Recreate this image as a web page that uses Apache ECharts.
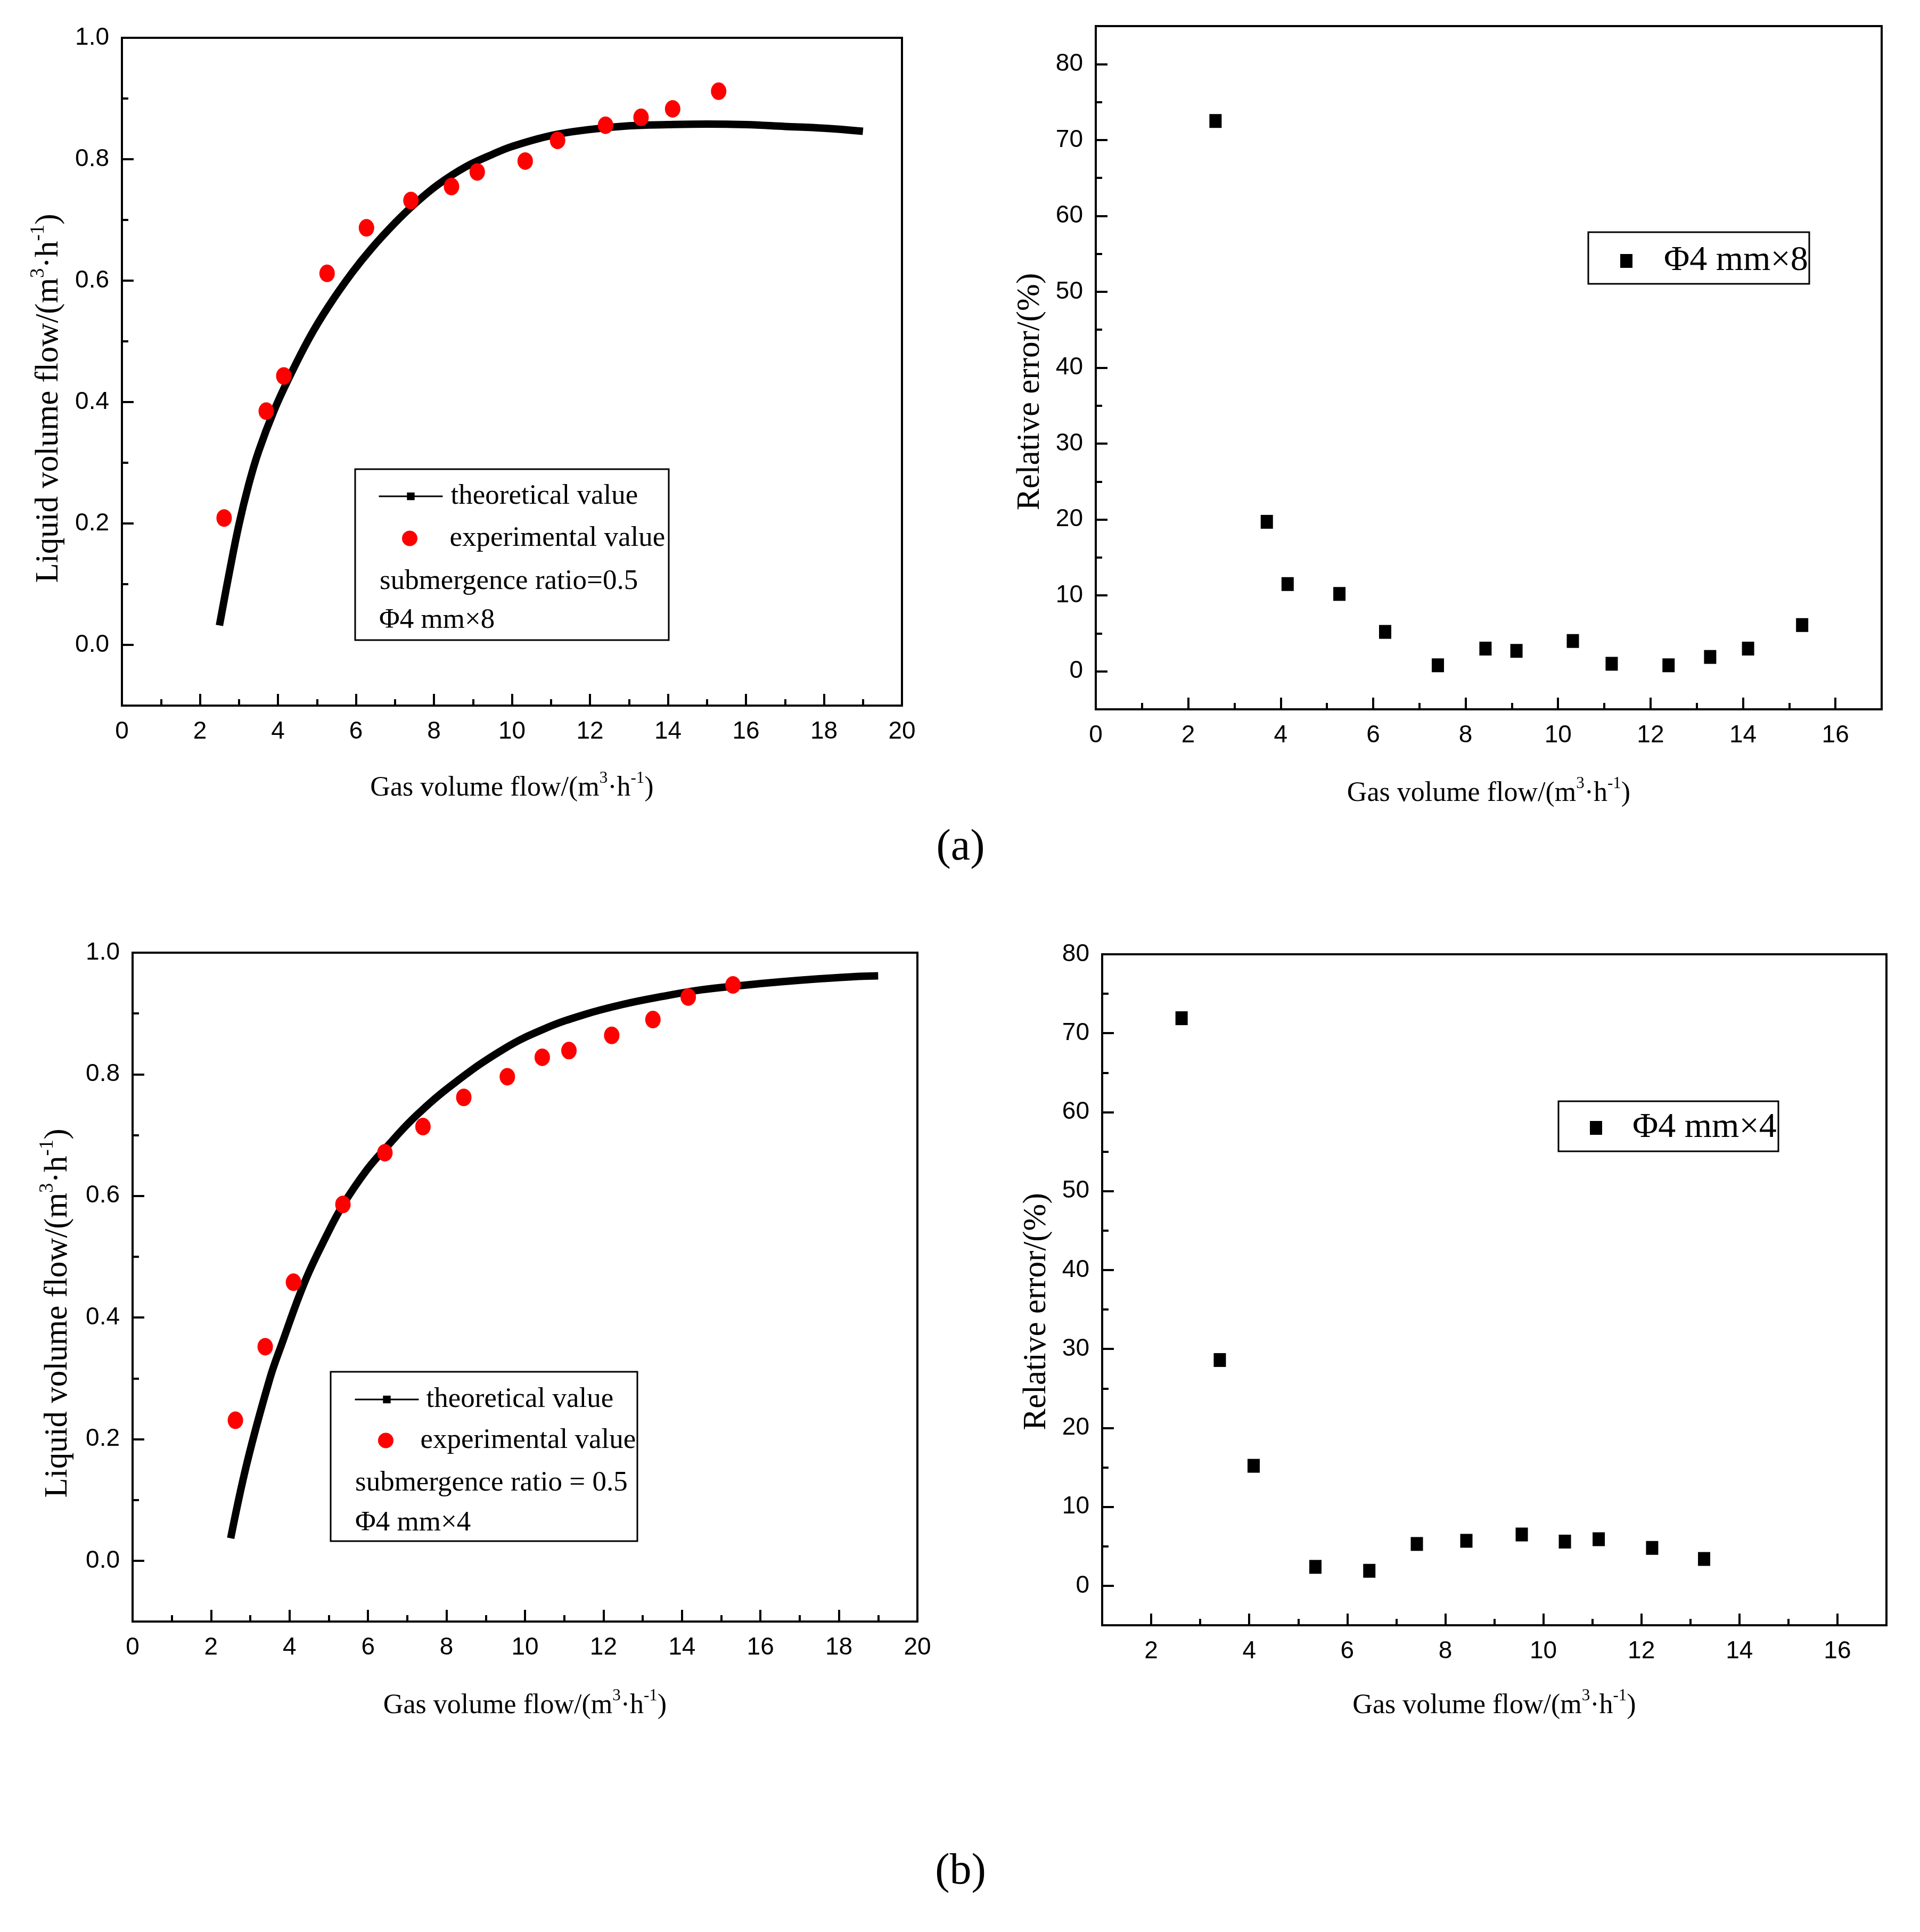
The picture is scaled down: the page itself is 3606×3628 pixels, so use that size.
<!DOCTYPE html>
<html>
<head>
<meta charset="utf-8">
<title>Liquid volume flow and relative error</title>
<script src="https://cdn.jsdelivr.net/npm/echarts@6/dist/echarts.min.js"></script>
<style>
html, body { margin: 0; padding: 0; background: #fff; }
#chart { width: 3606px; height: 3628px; }
</style>
</head>
<body>
<div id="chart"></div>
<script>
// (a) submergence ratio 0.5, Φ4 mm×8
var theoryXa = [2.5, 2.75, 3.0, 3.25, 3.5, 3.9, 4.3, 4.8, 5.3, 5.9, 6.4, 7.0, 7.5, 8.1, 8.8, 9.5, 10.0, 11.0, 12.0, 13.0, 14.0, 15.0, 16.0, 17.0, 18.0, 19.0];
var theoryYa = [0.032, 0.118, 0.198, 0.264, 0.318, 0.386, 0.442, 0.505, 0.558, 0.613, 0.653, 0.695, 0.726, 0.758, 0.787, 0.808, 0.821, 0.839, 0.849, 0.855, 0.857, 0.858, 0.857, 0.854, 0.851, 0.846];
var expXa = [2.62, 3.70, 4.15, 5.26, 6.27, 7.41, 8.45, 9.11, 10.34, 11.17, 12.40, 13.31, 14.12, 15.30];
var expYa = [0.209, 0.385, 0.443, 0.612, 0.687, 0.732, 0.755, 0.779, 0.797, 0.831, 0.856, 0.869, 0.883, 0.912];
var errXa = [2.59, 3.70, 4.15, 5.27, 6.26, 7.40, 8.43, 9.10, 10.32, 11.16, 12.39, 13.29, 14.11, 15.28];
var errYa = [72.5, 19.7, 11.5, 10.2, 5.2, 0.8, 3.0, 2.7, 4.0, 1.0, 0.8, 1.9, 3.0, 6.1];

// (b) submergence ratio 0.5, Φ4 mm×4
var theoryXb = [2.5, 2.92, 3.5, 3.8, 4.39, 4.96, 5.36, 5.96, 6.44, 7.21, 8.21, 9.47, 10.5, 11.5, 12.5, 13.5, 14.5, 15.5, 16.5, 17.5, 18.5, 19.0];
var theoryYb = [0.037, 0.162, 0.300, 0.356, 0.459, 0.537, 0.585, 0.642, 0.678, 0.731, 0.786, 0.842, 0.875, 0.898, 0.915, 0.928, 0.939, 0.946, 0.952, 0.957, 0.961, 0.962];
var expXb = [2.62, 3.38, 4.10, 5.36, 6.43, 7.40, 8.44, 9.55, 10.44, 11.12, 12.21, 13.26, 14.16, 15.30];
var expYb = [0.231, 0.352, 0.458, 0.586, 0.671, 0.714, 0.762, 0.796, 0.828, 0.839, 0.864, 0.890, 0.927, 0.947];
var errXb = [2.62, 3.40, 4.09, 5.35, 6.45, 7.42, 8.43, 9.56, 10.44, 11.13, 12.22, 13.28];
var errYb = [71.9, 28.6, 15.2, 2.4, 1.9, 5.3, 5.7, 6.5, 5.6, 5.9, 4.8, 3.4];

// ticks
var flowTicks = [0, 2, 4, 6, 8, 10, 12, 14, 16, 18, 20];
var flowMinor = [1, 3, 5, 7, 9, 11, 13, 15, 17, 19];
var liqTicks = [0, 0.2, 0.4, 0.6, 0.8, 1.0];
var liqMinor = [0.1, 0.3, 0.5, 0.7, 0.9];
var gasTicksA = [0, 2, 4, 6, 8, 10, 12, 14, 16];
var gasMinorA = [1, 3, 5, 7, 9, 11, 13, 15];
var gasTicksB = [2, 4, 6, 8, 10, 12, 14, 16];
var gasMinorB = [3, 5, 7, 9, 11, 13, 15];
var errTicks = [0, 10, 20, 30, 40, 50, 60, 70, 80];
var errMinor = [5, 15, 25, 35, 45, 55, 65, 75];

var serif = 'Liberation Serif', sans = 'Liberation Sans';
var gasName = 'Gas volume flow/(m{sup|3}·h{sup|-1})';
var liqName = 'Liquid volume flow/(m{sup|3}·h{sup|-1})';
var errName = 'Relative error/(%)';
var ellipse = 'path://M50,0A50,50 0 1,1 50,100A50,50 0 1,1 50,0Z';

function pairs(xs, ys) {
    return xs.map(function (x, i) { return [x, ys[i]]; });
}

function titleStyle(size, lh, pad) {
    var s = Math.round(size * 0.6);
    return {
        fontFamily: serif, fontSize: size, lineHeight: lh, color: '#000', padding: pad || 0,
        rich: { sup: { fontFamily: serif, fontSize: s, lineHeight: s, verticalAlign: 'top', color: '#000' } }
    };
}

// major axis (line, labels, long ticks) + minor axis (short ticks only)
function axisPair(dim, grid, min, max, ticks, minor, fmt, name, gap, pad) {
    var pos = dim === 'x' ? 'bottom' : 'left';
    var major = {
        gridIndex: grid, type: 'value', min: min, max: max, position: pos,
        axisLine: { onZero: false, lineStyle: { color: '#000', width: 4 } },
        axisTick: { inside: true, length: 22, customValues: ticks, lineStyle: { color: '#000', width: 4 } },
        axisLabel: { customValues: ticks, formatter: fmt, margin: dim === 'x' ? 26 : 24, color: '#000', fontFamily: sans, fontSize: 46 },
        splitLine: { show: false },
        name: name, nameLocation: 'middle', nameGap: gap,
        nameTextStyle: dim === 'x' ? titleStyle(52, 68) : titleStyle(61, 76, pad)
    };
    var small = {
        gridIndex: grid, type: 'value', min: min, max: max, position: pos,
        axisLine: { show: false, onZero: false },
        axisTick: { inside: true, length: 12, customValues: minor, lineStyle: { color: '#000', width: 4 } },
        axisLabel: { show: false },
        splitLine: { show: false }
    };
    return [major, small];
}

function fmt1(v) { return v.toFixed(1); }
function fmt0(v) { return String(Math.round(v)); }

var grids = [
    { left: 229, top: 71, width: 1465, height: 1254 },
    { left: 2058, top: 49, width: 1476, height: 1283 },
    { left: 249, top: 1789, width: 1474, height: 1256 },
    { left: 2070, top: 1792, width: 1473, height: 1260 }
].map(function (g) {
    g.show = true; g.borderColor = '#000'; g.borderWidth = 4;
    g.backgroundColor = 'transparent'; g.outerBoundsMode = 'none';
    return g;
});

var xAxis = [].concat(
    axisPair('x', 0, 0, 20, flowTicks, flowMinor, fmt0, gasName, 121),
    axisPair('x', 1, 0, 17, gasTicksA, gasMinorA, fmt0, gasName, 124),
    axisPair('x', 2, 0, 20, flowTicks, flowMinor, fmt0, gasName, 124),
    axisPair('x', 3, 1, 17, gasTicksB, gasMinorB, fmt0, gasName, 117)
);
var yAxis = [].concat(
    axisPair('y', 0, -0.1, 1.0, liqTicks, liqMinor, fmt1, liqName, 99, [0, 100, 0, 0]),
    axisPair('y', 1, -5, 85, errTicks, errMinor, fmt0, errName, 85, [0, 90, 0, 0]),
    axisPair('y', 2, -0.1, 1.0, liqTicks, liqMinor, fmt1, liqName, 102, [0, 98, 0, 0]),
    axisPair('y', 3, -5, 80, errTicks, errMinor, fmt0, errName, 85, [0, 82, 0, 0])
);

function theory(axis, xs, ys) {
    return {
        type: 'line', name: 'theoretical value', xAxisIndex: axis, yAxisIndex: axis,
        data: pairs(xs, ys), symbol: 'rect', symbolSize: 14, showSymbol: false,
        smooth: 0.4,
        lineStyle: { color: '#000', width: 14 }, itemStyle: { color: '#000' }, z: 2
    };
}
function experiment(axis, xs, ys) {
    return {
        type: 'scatter', name: 'experimental value', xAxisIndex: axis, yAxisIndex: axis,
        data: pairs(xs, ys), symbol: ellipse, symbolSize: [29, 33],
        itemStyle: { color: '#ff0000', opacity: 1 }, z: 3
    };
}
function errors(axis, name, xs, ys) {
    return {
        type: 'scatter', name: name, xAxisIndex: axis, yAxisIndex: axis,
        data: pairs(xs, ys), symbol: 'rect', symbolSize: [23, 26],
        itemStyle: { color: '#000', opacity: 1 }, z: 3
    };
}

function legendRow(item, left, top, w, h, size, lh, pad) {
    return {
        data: [item], left: left, top: top, padding: 0, itemWidth: w, itemHeight: h,
        selectedMode: false, lineStyle: { width: 3 },
        textStyle: { fontFamily: serif, fontSize: size, lineHeight: lh, color: '#000', padding: [0, 0, 0, pad] }
    };
}

function note(text, x, y) {
    return { type: 'text', x: x, y: y, style: { text: text, fontFamily: serif, fontSize: 53, fill: '#000', verticalAlign: 'middle' } };
}
function box(x, y, w, h) {
    return { type: 'rect', shape: { x: x, y: y, width: w, height: h }, style: { fill: 'none', stroke: '#000', lineWidth: 3 } };
}
function panel(text, x, y) {
    return { type: 'text', x: x, y: y, style: { text: text, fontFamily: serif, fontSize: 82, fill: '#000', align: 'center', verticalAlign: 'middle' } };
}

var chart = echarts.init(document.getElementById('chart'), null, { renderer: 'canvas' });
chart.setOption({
    backgroundColor: '#fff',
    animation: false,
    grid: grids,
    xAxis: xAxis,
    yAxis: yAxis,
    legend: [
        legendRow('theoretical value', 710, 902, 120, 18, 53, 60, 10),
        legendRow({ name: 'experimental value', icon: 'circle' }, 755, 981, 120, 29, 53, 60, 10),
        legendRow('theoretical value', 665, 2598, 120, 18, 53, 60, 9),
        legendRow({ name: 'experimental value', icon: 'circle' }, 710, 2675, 120, 29, 53, 60, 0),
        legendRow({ name: 'Φ4 mm×8', icon: 'rect' }, 3043, 455, 23, 26, 66, 70, 54),
        legendRow({ name: 'Φ4 mm×4', icon: 'rect' }, 2986, 2083, 23, 26, 66, 70, 52)
    ],
    graphic: [
        box(667, 881, 589, 321),
        note('submergence ratio=0.5', 713, 1092),
        note('Φ4 mm×8', 712, 1165),
        box(621, 2576, 576, 318),
        note('submergence ratio = 0.5', 667, 2785),
        note('Φ4 mm×4', 667, 2860),
        box(2983, 436, 415, 97),
        box(2927, 2068, 413, 94),
        panel('(a)', 1804, 1592),
        panel('(b)', 1804, 3515)
    ],
    series: [
        theory(0, theoryXa, theoryYa),
        experiment(0, expXa, expYa),
        errors(2, 'Φ4 mm×8', errXa, errYa),
        theory(4, theoryXb, theoryYb),
        experiment(4, expXb, expYb),
        errors(6, 'Φ4 mm×4', errXb, errYb)
    ]
});
</script>
</body>
</html>
